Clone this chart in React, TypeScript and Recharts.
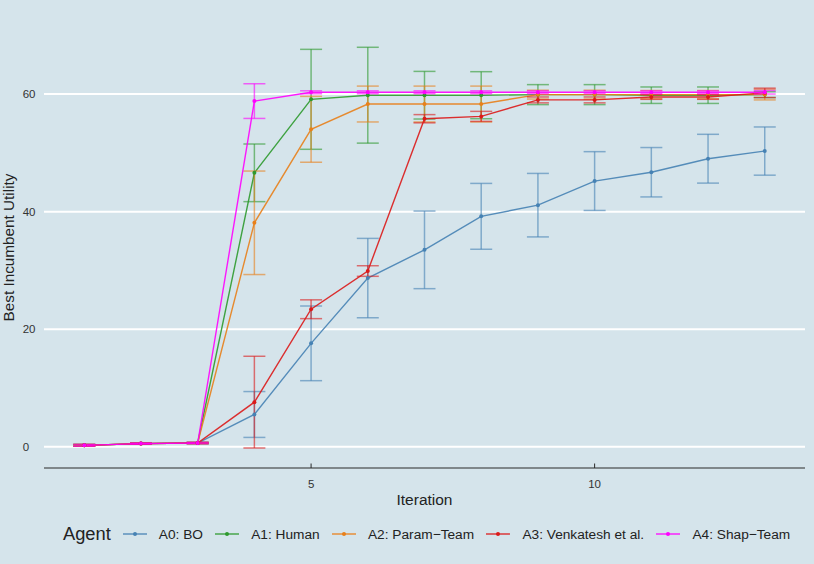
import { LineChart, Line, XAxis, YAxis, CartesianGrid, ErrorBar, Label } from "recharts";

const iterations = [1, 2, 3, 4, 5, 6, 7, 8, 9, 10, 11, 12, 13];

const boMean = [0.25, 0.55, 0.65, 5.5, 17.6, 28.7, 33.5, 39.2, 41.1, 45.2, 46.7, 49.0, 50.3];
const boSd = [0.15, 0.1, 0.1, 3.9, 6.35, 6.75, 6.6, 5.6, 5.4, 5.0, 4.2, 4.15, 4.1];
const humanMean = [0.25, 0.55, 0.65, 46.6, 59.1, 59.8, 59.8, 59.8, 59.9, 59.9, 59.8, 59.8, 59.9];
const humanSd = [0.15, 0.1, 0.1, 4.9, 8.5, 8.15, 4.05, 4.0, 1.7, 1.7, 1.4, 1.4, 0.5];
const paramMean = [0.25, 0.55, 0.65, 38.1, 54.0, 58.3, 58.3, 58.3, 59.9, 59.9, 59.9, 59.9, 59.9];
const paramSd = [0.15, 0.1, 0.1, 8.8, 5.6, 3.05, 3.05, 3.05, 0.75, 0.75, 0.7, 0.7, 0.9];
const venkMean = [0.25, 0.55, 0.65, 7.6, 23.4, 29.9, 55.8, 56.2, 59.0, 59.0, 59.5, 59.5, 60.2];
const venkSd = [0.15, 0.1, 0.1, 7.8, 1.6, 0.9, 0.7, 0.85, 0.5, 0.5, 0.4, 0.4, 0.8];
const shapMean = [0.25, 0.55, 0.65, 58.8, 60.3, 60.3, 60.3, 60.3, 60.3, 60.3, 60.3, 60.3, 60.3];
const shapSd = [0.15, 0.1, 0.1, 2.95, 0.25, 0.25, 0.25, 0.25, 0.25, 0.25, 0.25, 0.25, 0.3];

const xTicks = [5, 10];
const yTicks = [0, 20, 40, 60];

const agents = [
  { key: "a0", name: "A0: BO", color: "#4682b4", mean: boMean, sd: boSd },
  { key: "a1", name: "A1: Human", color: "#2e9a2e", mean: humanMean, sd: humanSd },
  { key: "a2", name: "A2: Param\u2212Team", color: "#e8801a", mean: paramMean, sd: paramSd },
  { key: "a3", name: "A3: Venkatesh et al.", color: "#db1a1a", mean: venkMean, sd: venkSd },
  { key: "a4", name: "A4: Shap\u2212Team", color: "#ff00ff", mean: shapMean, sd: shapSd },
];

const data = iterations.map((it, i) => {
  const row: Record<string, number> = { iteration: it };
  agents.forEach((a) => {
    row[a.key] = a.mean[i];
    row[a.key + "err"] = a.sd[i];
  });
  return row;
});

const BG = "#d5e4eb";
const FONT = "'Liberation Sans', Arial, sans-serif";

function XTick(props: any) {
  const { x, y, payload } = props;
  return (
    <g>
      <line x1={x} x2={x} y1={y - 4.5} y2={y} stroke="#2a2a2a" strokeWidth={1} />
      <text x={x} y={y + 20} textAnchor="middle" fontSize={11.5} fill="#333">
        {payload.value}
      </text>
    </g>
  );
}

function YTick(props: any) {
  const { y, payload } = props;
  return (
    <text x={22.7} y={y} dy="0.36em" textAnchor="start" fontSize={11.5} fill="#333">
      {payload.value}
    </text>
  );
}

export default function App() {
  return (
    <div style={{ position: "fixed", left: 0, top: 0, width: 814, height: 564, background: BG, fontFamily: FONT }}>
      <LineChart width={814} height={564} data={data} margin={{ top: 27, right: 9, left: 0, bottom: 66 }}>
        <CartesianGrid horizontal vertical={false} horizontalValues={yTicks} stroke="#ffffff" strokeWidth={2} />
        <XAxis
          dataKey="iteration"
          type="number"
          domain={[0.29, 13.71]}
          ticks={xTicks}
          height={30}
          tickLine={false}
          tickSize={0}
          tickMargin={0}
          axisLine={{ stroke: "#2a2a2a", strokeWidth: 1.1 }}
          tick={<XTick />}
        >
          <Label
            content={(p: any) => (
              <text x={p.viewBox.x + p.viewBox.width / 2} y={p.viewBox.y + 37} textAnchor="middle" fontSize={15.5} fill="#222">
                Iteration
              </text>
            )}
          />
        </XAxis>
        <YAxis
          type="number"
          domain={[-3.6, 71.4]}
          ticks={yTicks}
          width={44}
          axisLine={false}
          tickLine={false}
          tickSize={0}
          tick={<YTick />}
        >
          <Label
            content={(p: any) => {
              const cy = p.viewBox.y + p.viewBox.height / 2;
              return (
                <text x={13.5} y={cy} transform={`rotate(-90, 13.5, ${cy})`} textAnchor="middle" fontSize={15.3} fill="#222">
                  Best Incumbent Utility
                </text>
              );
            }}
          />
        </YAxis>
        {agents.map((a) => (
          <Line
            key={a.key}
            dataKey={a.key}
            name={a.name}
            type="linear"
            stroke={a.color}
            strokeWidth={1.4}
            strokeOpacity={0.9}
            dot={{ r: 2, fill: a.color, stroke: "none" }}
            activeDot={false}
            isAnimationActive={false}
          >
            <ErrorBar
              dataKey={a.key + "err"}
              direction="y"
              width={11}
              stroke={a.color}
              strokeWidth={1.5}
              strokeOpacity={0.6}
              isAnimationActive={false}
            />
          </Line>
        ))}
      </LineChart>
      <div
        style={{
          position: "absolute",
          left: 63,
          top: 522,
          height: 24,
          display: "flex",
          alignItems: "center",
          whiteSpace: "nowrap",
          color: "#222",
        }}
      >
        <span style={{ fontSize: 18.3, marginRight: 12 }}>Agent</span>
        {agents.map((a) => (
          <span key={a.key} style={{ display: "flex", alignItems: "center", marginRight: 12.3 }}>
            <svg width={24} height={10}>
              <line x1={0} x2={24} y1={5} y2={5} stroke={a.color} strokeWidth={1.6} strokeOpacity={0.8} />
              <circle cx={12} cy={5} r={2} fill={a.color} />
            </svg>
            <span style={{ fontSize: 13.7, marginLeft: 12 }}>{a.name}</span>
          </span>
        ))}
      </div>
    </div>
  );
}
